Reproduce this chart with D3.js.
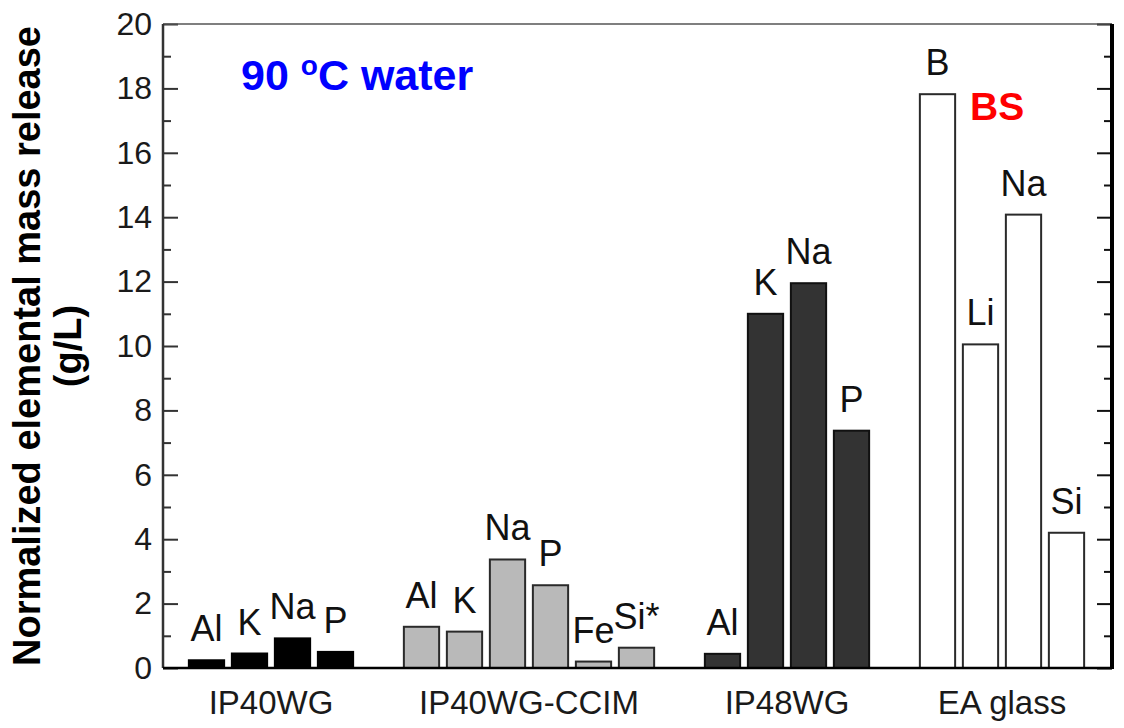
<!DOCTYPE html>
<html>
<head>
<meta charset="utf-8">
<script src="https://cdn.jsdelivr.net/npm/d3@7"></script>
<style>
  body { margin: 0; background: #fff; }
  svg { display: block; font-family: "Liberation Sans", Arial, sans-serif; }
</style>
</head>
<body>
<svg width="1124" height="728"></svg>
<script>
// data (g/L)
var groups = ["IP40WG", "IP40WG-CCIM", "IP48WG", "EA glass"];
var ip40Elements = ["Al", "K", "Na", "P"];
var ip40Values = [0.24, 0.45, 0.92, 0.5];
var ccimElements = ["Al", "K", "Na", "P", "Fe", "Si*"];
var ccimValues = [1.28, 1.13, 3.37, 2.57, 0.2, 0.63];
var ip48Elements = ["Al", "K", "Na", "P"];
var ip48Values = [0.44, 11.0, 11.95, 7.37];
var eaElements = ["B", "Li", "Na", "Si"];
var eaValues = [17.82, 10.05, 14.08, 4.2];
var yTicks = [0, 2, 4, 6, 8, 10, 12, 14, 16, 18, 20];

var groupFill = ["#000000", "#b9b9b9", "#333333", "#ffffff"];
var groupStroke = ["#000000", "#2a2a2a", "#111111", "#2a2a2a"];

// build slots, one empty slot between groups
var sets = [
  [ip40Elements, ip40Values],
  [ccimElements, ccimValues],
  [ip48Elements, ip48Values],
  [eaElements, eaValues]
];
var bars = [], slots = [];
sets.forEach(function(s, g) {
  if (g > 0) slots.push("gap" + g);
  s[0].forEach(function(el, i) {
    var key = g + "-" + el;
    slots.push(key);
    bars.push({ key: key, group: g, el: el, value: s[1][i] });
  });
});

// plot box (window.top is reserved, so own names)
var pLeft = 163, pRight = 1112, pTop = 24, pBottom = 668;

var svg = d3.select("svg");

var x = d3.scaleBand()
    .domain(slots)
    .range([185, 1088])
    .paddingInner(0.18)
    .paddingOuter(0.09);

var y = d3.scaleLinear()
    .domain([0, 20])
    .range([pBottom, pTop]);

// bars
svg.append("g").selectAll("rect")
    .data(bars)
  .enter().append("rect")
    .attr("x", function(d) { return x(d.key); })
    .attr("y", function(d) { return y(d.value); })
    .attr("width", x.bandwidth())
    .attr("height", function(d) { return y(0) - y(d.value); })
    .attr("fill", function(d) { return groupFill[d.group]; })
    .attr("stroke", function(d) { return groupStroke[d.group]; })
    .attr("stroke-width", 2);

// element labels
svg.append("g").selectAll("text")
    .data(bars)
  .enter().append("text")
    .attr("x", function(d) { return x(d.key) + x.bandwidth() / 2; })
    .attr("y", function(d) { return y(d.value) - 19; })
    .attr("text-anchor", "middle")
    .attr("font-size", 36)
    .attr("fill", "#111")
    .text(function(d) { return d.el; });

// y axis, major + minor ticks pointing in
var minor = d3.range(1, 20, 2);
var yAxis = svg.append("g")
    .attr("transform", "translate(" + pLeft + ",0)")
    .call(d3.axisLeft(y).tickValues(yTicks).tickSizeInner(-15).tickSizeOuter(0).tickPadding(11));
yAxis.append("g").call(d3.axisLeft(y).tickValues(minor).tickSizeInner(-8).tickSizeOuter(0).tickFormat(""));
yAxis.selectAll(".domain").remove();
yAxis.selectAll("line").attr("stroke", "#333").attr("stroke-width", 2);
yAxis.selectAll("text")
    .attr("font-size", 32)
    .attr("font-family", "Liberation Sans, Arial, sans-serif")
    .attr("fill", "#1a1a1a");

var rAxis = svg.append("g")
    .attr("transform", "translate(" + pRight + ",0)")
    .call(d3.axisRight(y).tickValues(yTicks).tickSizeInner(-15).tickSizeOuter(0).tickFormat(""));
rAxis.append("g").call(d3.axisRight(y).tickValues(minor).tickSizeInner(-8).tickSizeOuter(0).tickFormat(""));
rAxis.selectAll(".domain").remove();
rAxis.selectAll("line").attr("stroke", "#111").attr("stroke-width", 2);

// frame
svg.append("line").attr("x1", pLeft).attr("x2", pRight).attr("y1", pTop).attr("y2", pTop)
    .attr("stroke", "#555").attr("stroke-width", 1.5);
svg.append("line").attr("x1", pLeft).attr("x2", pLeft).attr("y1", pTop).attr("y2", pBottom)
    .attr("stroke", "#333").attr("stroke-width", 2.5);
svg.append("line").attr("x1", pRight).attr("x2", pRight).attr("y1", pTop).attr("y2", pBottom + 1)
    .attr("stroke", "#000").attr("stroke-width", 4);
svg.append("line").attr("x1", pLeft).attr("x2", pRight).attr("y1", pBottom).attr("y2", pBottom)
    .attr("stroke", "#000").attr("stroke-width", 2.5);

// group labels
svg.append("g").selectAll("text")
    .data(groups)
  .enter().append("text")
    .attr("x", function(d, g) {
      var keys = bars.filter(function(b) { return b.group === g; }).map(function(b) { return b.key; });
      return (x(keys[0]) + x(keys[keys.length - 1]) + x.bandwidth()) / 2;
    })
    .attr("y", 714)
    .attr("text-anchor", "middle")
    .attr("font-size", 33)
    .attr("fill", "#1a1a1a")
    .text(function(d) { return d; });

// y title
var yt = svg.append("text")
    .attr("transform", "translate(40," + (pTop + pBottom) / 2 + ") rotate(-90)")
    .attr("text-anchor", "middle")
    .attr("font-weight", "bold")
    .attr("font-size", 38)
    .attr("fill", "#000");
yt.append("tspan").attr("x", 0).attr("y", 0).text("Normalized elemental mass release");
yt.append("tspan").attr("x", 0).attr("y", 41).text("(g/L)");

// annotations
var note = svg.append("text")
    .attr("x", 241).attr("y", 90)
    .attr("font-weight", "bold")
    .attr("font-size", 43)
    .attr("fill", "#0000ff");
note.append("tspan").text("90 ");
note.append("tspan").attr("font-size", 28).attr("dy", -15).text("o");
note.append("tspan").attr("dy", 15).text("C water");

svg.append("text")
    .attr("x", 970).attr("y", 120)
    .attr("font-weight", "bold")
    .attr("font-size", 39)
    .attr("fill", "#ff0000")
    .text("BS");
</script>
</body>
</html>
